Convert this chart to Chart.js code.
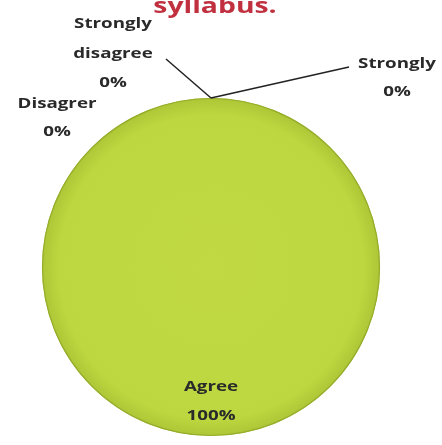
<!DOCTYPE html>
<html>
<head>
<meta charset="utf-8">
<script src="https://cdn.jsdelivr.net/npm/chart.js@4"></script>
<style>
  html, body { margin: 0; padding: 0; background: #ffffff; }
  #wrap { width: 442px; height: 445px; }
</style>
</head>
<body>
<div id="wrap"><canvas id="c" width="442" height="445"></canvas></div>
<script>
// data
const categories = ["Strongly", "Agree", "Disagrer", "Strongly disagree"];
const labelLines = [["Strongly", "0%"], ["Agree", "100%"], ["Disagrer", "0%"], ["Strongly", "disagree", "0%"]];
const values = [0, 100, 0, 0];
const titleText = "syllabus.";

// where each label sits (centre x, first line middle y) and whether it gets a leader line
const labelSpots = [
  { x: 397, y: 64, step: 28, leader: [349, 67] },
  { x: 211, y: 387, step: 29, leader: null },
  { x: 57, y: 104, step: 28, leader: null },
  { x: 113, y: 24, step: 29.5, leader: [166, 59] }
];

const stretch = 1.25;

function stretchedText(ctx, text, x, y) {
  ctx.save();
  ctx.translate(x, y);
  ctx.scale(stretch, 1);
  ctx.fillText(text, 0, 0);
  ctx.restore();
}

const labelPlugin = {
  id: 'pieLabels',
  afterDatasetsDraw(chart) {
    // outline of the pie (no radial seam)
    const ctx = chart.ctx;
    const p = chart.getDatasetMeta(0).data[1].getProps(['x', 'y', 'outerRadius'], true);
    ctx.save();
    ctx.strokeStyle = '#95ad2c';
    ctx.lineWidth = 1.2;
    ctx.beginPath();
    ctx.arc(p.x, p.y, p.outerRadius - 0.5, 0, Math.PI * 2);
    ctx.stroke();
    ctx.restore();
  },
  afterDraw(chart) {
    const ctx = chart.ctx;
    const meta = chart.getDatasetMeta(0);
    ctx.save();
    // title, top part is cut off by the picture edge
    ctx.fillStyle = '#c0303f';
    ctx.font = 'bold 21px "Open Sans"';
    ctx.textAlign = 'center';
    ctx.textBaseline = 'alphabetic';
    ctx.save();
    ctx.translate(215, 13);
    ctx.scale(1.35, 1);
    ctx.fillText(titleText, 0, 0);
    ctx.restore();

    ctx.fillStyle = '#2a2a2a';
    ctx.font = 'bold 15px "Open Sans"';
    ctx.textBaseline = 'middle';
    meta.data.forEach((arc, i) => {
      const spot = labelSpots[i];
      labelLines[i].forEach((line, k) => {
        stretchedText(ctx, line, spot.x, spot.y + k * spot.step);
      });
      if (spot.leader) {
        const p = arc.getProps(['x', 'y', 'startAngle', 'outerRadius'], true);
        const ax = p.x + Math.cos(p.startAngle) * p.outerRadius;
        const ay = p.y + Math.sin(p.startAngle) * p.outerRadius;
        ctx.strokeStyle = '#222';
        ctx.lineWidth = 1.5;
        ctx.beginPath();
        ctx.moveTo(spot.leader[0], spot.leader[1]);
        ctx.lineTo(ax, ay);
        ctx.stroke();
      }
    });
    ctx.restore();
  }
};

function fillFor(context) {
  const chart = context.chart;
  const a = chart.chartArea;
  if (!a) return '#bdd740';
  const cx = (a.left + a.right) / 2, cy = (a.top + a.bottom) / 2;
  const r = Math.min(a.right - a.left, a.bottom - a.top) / 2;
  const g = chart.ctx.createRadialGradient(cx, cy, 0, cx, cy, r);
  g.addColorStop(0, '#c1da44');
  g.addColorStop(0.9, '#bdd740');
  g.addColorStop(1, '#adc636');
  return g;
}

new Chart(document.getElementById('c'), {
  type: 'pie',
  data: {
    labels: categories,
    datasets: [{
      data: values,
      backgroundColor: fillFor,
      borderWidth: 0
    }]
  },
  options: {
    responsive: false,
    animation: false,
    rotation: 0,
    layout: { padding: { left: 42, right: 62, top: 98, bottom: 9 } },
    plugins: {
      legend: { display: false },
      tooltip: { enabled: false },
      title: { display: false }
    }
  },
  plugins: [labelPlugin]
});
</script>
</body>
</html>
